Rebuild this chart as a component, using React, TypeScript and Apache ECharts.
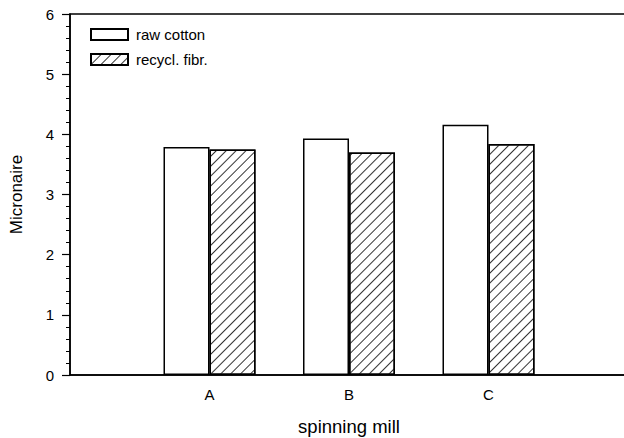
import React, { useEffect, useRef } from "react";
import * as echarts from "echarts";

const mills = ["A", "B", "C"];
const rawCotton = [3.79, 3.93, 4.16];
const recycledFibre = [3.75, 3.7, 3.84];
const yTicks = [0, 1, 2, 3, 4, 5, 6];

// Empty slots on both sides leave one category gap before A and after C.
const pad = <T,>(arr: T[], fill: T): T[] => [fill, ...arr, fill];

const FONT = "Liberation Sans, Arial, Helvetica, sans-serif";

export default function App() {
  const ref = useRef<HTMLDivElement>(null);

  useEffect(() => {
    if (!ref.current) return;
    const chart = echarts.init(ref.current, undefined, { renderer: "svg" });
    const hatch = {
      symbol: "rect",
      symbolSize: 1,
      dashArrayX: [[1, 0]],
      dashArrayY: [1, 5.6],
      rotation: -Math.PI / 4,
      color: "#333",
      backgroundColor: "#fff",
    };
    chart.setOption({
      animation: false,
      backgroundColor: "#fff",
      textStyle: { fontFamily: FONT, color: "#000" },
      grid: {
        left: 70,
        top: 14,
        width: 558,
        height: 361,
        outerBoundsMode: "none",
        show: true,
        borderColor: "#000",
        borderWidth: 1.5,
        backgroundColor: "transparent",
      },
      legend: {
        left: 85,
        top: 22,
        orient: "vertical",
        itemWidth: 37,
        itemHeight: 11,
        itemGap: 10,
        icon: "rect",
        textStyle: { fontSize: 15, color: "#000", fontFamily: FONT, padding: [0, 0, 0, 3] },
        data: ["raw cotton", "recycl. fibr."],
      },
      xAxis: {
        type: "category",
        data: pad(mills, ""),
        boundaryGap: false,
        axisLine: { lineStyle: { color: "#000", width: 1.5 } },
        axisTick: { show: false },
        axisLabel: { fontSize: 15, color: "#000", margin: 12, fontFamily: FONT },
        name: "spinning mill",
        nameLocation: "middle",
        nameGap: 42,
        nameTextStyle: { fontSize: 18.5, color: "#000", fontFamily: FONT },
      },
      yAxis: {
        type: "value",
        min: yTicks[0],
        max: yTicks[yTicks.length - 1],
        interval: 1,
        axisLine: { show: true, lineStyle: { color: "#000", width: 1.5 } },
        axisTick: { show: true, length: 8, lineStyle: { color: "#000", width: 1.2 } },
        minorTick: { show: true, splitNumber: 5, length: 4, lineStyle: { color: "#000", width: 1 } },
        splitLine: { show: false },
        axisLabel: { fontSize: 15, color: "#000", margin: 16, fontFamily: FONT },
        name: "Micronaire",
        nameLocation: "middle",
        nameGap: 45,
        nameTextStyle: { fontSize: 17, color: "#000", fontFamily: FONT },
      },
      series: [
        {
          name: "raw cotton",
          type: "bar",
          data: pad<number | null>(rawCotton, null),
          barWidth: 46,
          barGap: "0%",
          itemStyle: { color: "#fff", borderColor: "#000", borderWidth: 1.5 },
        },
        {
          name: "recycl. fibr.",
          type: "bar",
          data: pad<number | null>(recycledFibre, null),
          barWidth: 46,
          barGap: "0%",
          itemStyle: { color: "#fff", borderColor: "#000", borderWidth: 1.5, decal: hatch },
        },
      ],
    });
    return () => chart.dispose();
  }, []);

  return (
    <div
      ref={ref}
      style={{ position: "fixed", left: 0, top: 0, width: 624, height: 438 }}
    />
  );
}
